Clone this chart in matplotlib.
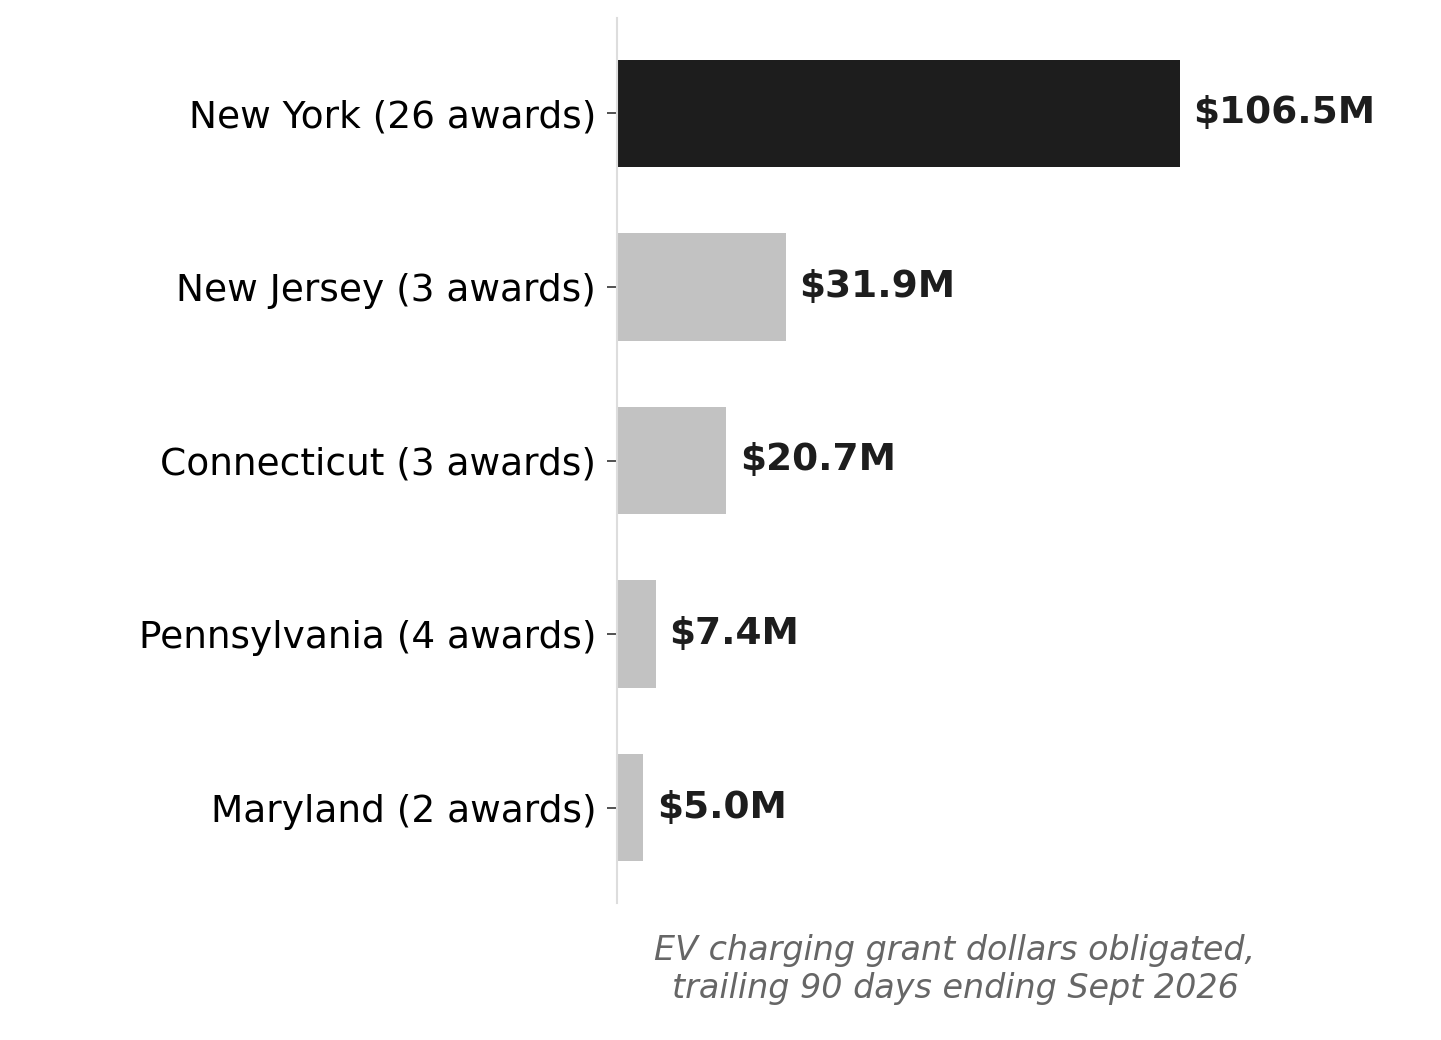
import matplotlib
matplotlib.use("Agg")
import matplotlib.pyplot as plt

plt.rcParams["font.family"] = ["DejaVu Sans"]

states = ["New York (26 awards)", "New Jersey (3 awards)", "Connecticut (3 awards)",
          "Pennsylvania (4 awards)", "Maryland (2 awards)"]
values = [106.5, 31.9, 20.7, 7.4, 5.0]
labels = ["$106.5M", "$31.9M", "$20.7M", "$7.4M", "$5.0M"]
colors = ["#1d1d1d", "#c2c2c2", "#c2c2c2", "#c2c2c2", "#c2c2c2"]

fig = plt.figure(figsize=(14.41, 10.4), dpi=100)
ax = fig.add_axes([617/1441, 1-903/1040, (1293-617)/1441, (903-18)/1040])
y = list(range(len(states)))
ax.barh(y, values, height=0.62, color=colors)
ax.set_ylim(4.55, -0.55)
ax.set_xlim(0, 106.5*1.2)
ax.set_yticks(y)
ax.set_yticklabels(states, fontsize=27)
ax.set_xticks([])
for yi, v, t in zip(y, values, labels):
    ax.text(v + 2.5, yi, t, va="center", ha="left", fontsize=27, fontweight="bold", color="#1d1d1d")
for s in ["top", "right", "bottom"]:
    ax.spines[s].set_visible(False)
ax.spines["left"].set_color("#dddddd")
ax.spines["left"].set_linewidth(1.5)
ax.tick_params(axis="y", length=7, width=1.2, color="#333333", pad=8)
ax.set_xlabel("EV charging grant dollars obligated,\ntrailing 90 days ending Sept 2026",
              fontsize=24, style="italic", color="#666666", labelpad=22, linespacing=1.2)
fig.savefig("out.png", dpi=100)
